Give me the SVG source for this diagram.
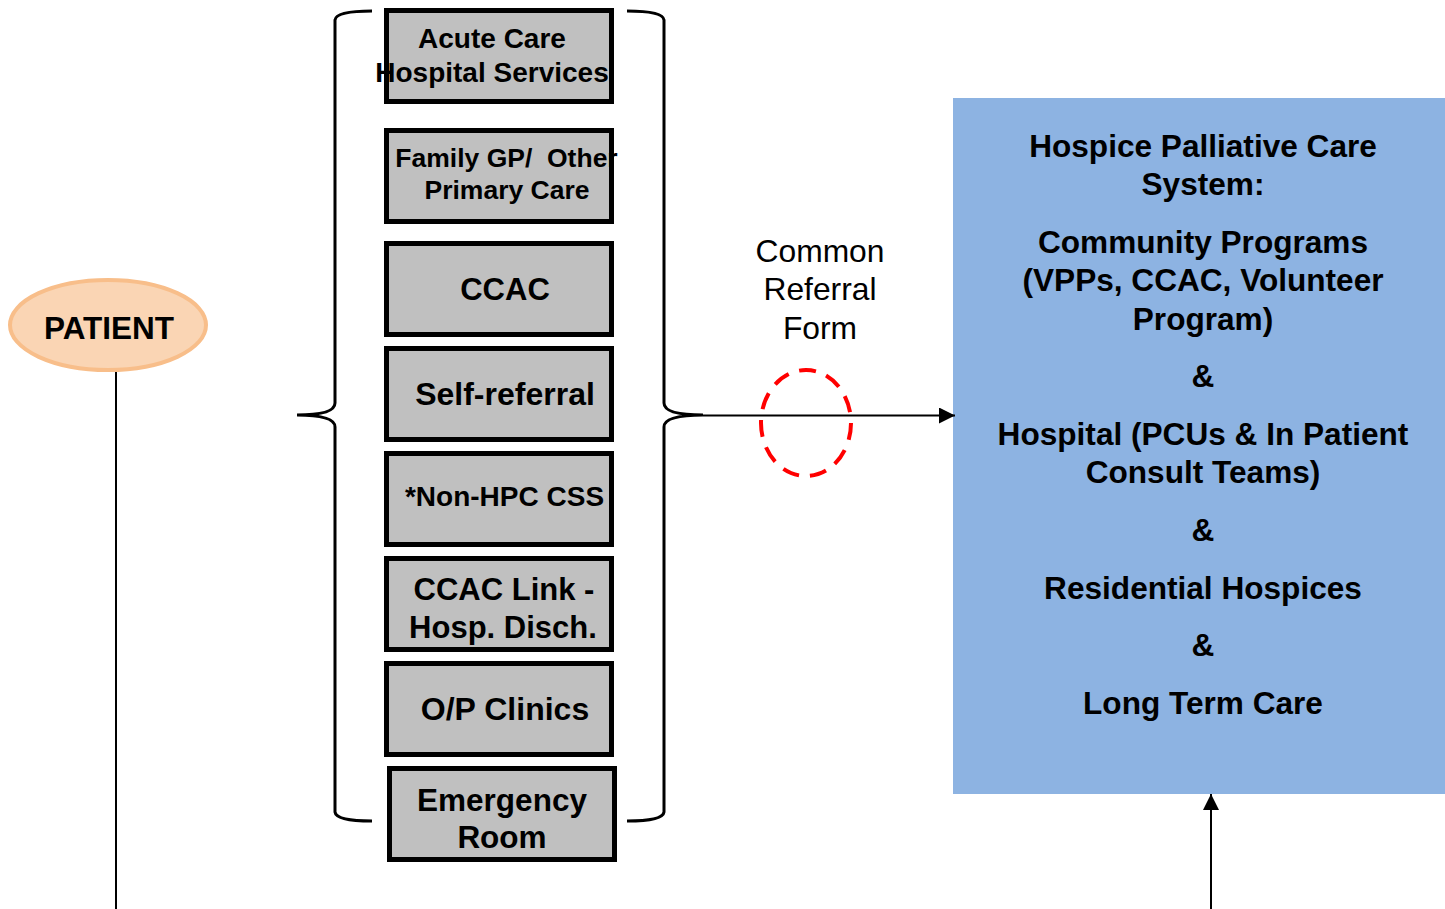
<svg xmlns="http://www.w3.org/2000/svg" width="1445" height="909" viewBox="0 0 1445 909">
<style>
.box{fill:#C0C0C0;stroke:#000;stroke-width:5}
.bt{font-family:"Liberation Sans",Arial,sans-serif;font-weight:bold;fill:#000;text-anchor:middle}
.brace{fill:none;stroke:#000;stroke-width:3}
.conn{fill:none;stroke:#000;stroke-width:2}
</style>
<defs>
<marker id="ah" viewBox="0 0 16 16" refX="16" refY="8" markerWidth="16" markerHeight="16" markerUnits="userSpaceOnUse" orient="auto">
<path d="M0,0 L16,8 L0,16 Z" fill="#000"/>
</marker>
</defs>
<rect width="1445" height="909" fill="#fff"/>
<g id="hpc-system">
<rect x="953" y="98" width="492" height="696" fill="#8DB3E2"/>
<g class="bt" font-size="31.6">
<text x="1203" y="157">Hospice Palliative Care</text>
<text x="1203" y="195">System:</text>
<text x="1203" y="253">Community Programs</text>
<text x="1203" y="291">(VPPs, CCAC, Volunteer</text>
<text x="1203" y="330">Program)</text>
<text x="1203" y="387">&amp;</text>
<text x="1203" y="445">Hospital (PCUs &amp; In Patient</text>
<text x="1203" y="483">Consult Teams)</text>
<text x="1203" y="541">&amp;</text>
<text x="1203" y="599">Residential Hospices</text>
<text x="1203" y="656">&amp;</text>
<text x="1203" y="714">Long Term Care</text>
</g>
</g>
<g id="braces">
<path class="brace" d="M372,11 Q336,11 335,20 L335,403 Q335,415 297,415 Q335,415 335,427 L335,812 Q336,821 372,821"/>
<path class="brace" d="M627,11 Q663,11 664,20 L664,403 Q664,415 703,415 Q664,415 664,427 L664,812 Q663,821 627,821"/>
</g>
<g id="patient">
<ellipse cx="108" cy="325" rx="98" ry="45" fill="#FAD5B4" stroke="#F8BE8A" stroke-width="4"/>
<text class="bt" x="109" y="339" font-size="31.5">PATIENT</text>
</g>
<g id="acute-care">
<rect class="box" x="386.5" y="10.5" width="225" height="91"/>
<text class="bt" x="492" y="48" font-size="28">Acute Care</text>
<text class="bt" x="492" y="82" font-size="28">Hospital Services</text>
</g>
<g id="family-gp">
<rect class="box" x="386.5" y="130.5" width="225" height="91"/>
<text class="bt" x="506.5" y="167" font-size="26.5" xml:space="preserve">Family GP/  Other</text>
<text class="bt" x="507" y="199" font-size="26.5">Primary Care</text>
</g>
<g id="ccac">
<rect class="box" x="386.5" y="243.5" width="225" height="91"/>
<text class="bt" x="505" y="300" font-size="31">CCAC</text>
</g>
<g id="self-referral">
<rect class="box" x="386.5" y="348.5" width="225" height="91"/>
<text class="bt" x="505" y="405" font-size="32">Self-referral</text>
</g>
<g id="non-hpc-css">
<rect class="box" x="386.5" y="453.5" width="225" height="91"/>
<text class="bt" x="504.5" y="506" font-size="28">*Non-HPC CSS</text>
</g>
<g id="ccac-link">
<rect class="box" x="386.5" y="558.5" width="225" height="91"/>
<text class="bt" x="504" y="600" font-size="31">CCAC Link -</text>
<text class="bt" x="503" y="638" font-size="31">Hosp. Disch.</text>
</g>
<g id="op-clinics">
<rect class="box" x="386.5" y="663.5" width="225" height="91"/>
<text class="bt" x="505" y="720" font-size="32">O/P Clinics</text>
</g>
<g id="emergency">
<rect class="box" x="389.5" y="768.5" width="225" height="91"/>
<text class="bt" x="502" y="811" font-size="31.5">Emergency</text>
<text class="bt" x="502" y="848" font-size="31.5">Room</text>
</g>
<g id="connectors">
<line class="conn" x1="116" y1="372" x2="116" y2="909"/>
<line class="conn" x1="703" y1="415.5" x2="955" y2="415.5" marker-end="url(#ah)"/>
<line class="conn" x1="1211" y1="909" x2="1211" y2="794" marker-end="url(#ah)"/>
</g>
<g id="common-referral-form">
<ellipse cx="806" cy="423" rx="45" ry="53" fill="none" stroke="#FF0000" stroke-width="4" stroke-dasharray="17,11"/>
<g font-family="'Liberation Sans',Arial,sans-serif" font-size="31.8" text-anchor="middle" fill="#000">
<text x="820" y="262">Common</text>
<text x="820" y="300">Referral</text>
<text x="820" y="339">Form</text>
</g>
</g>
</svg>
